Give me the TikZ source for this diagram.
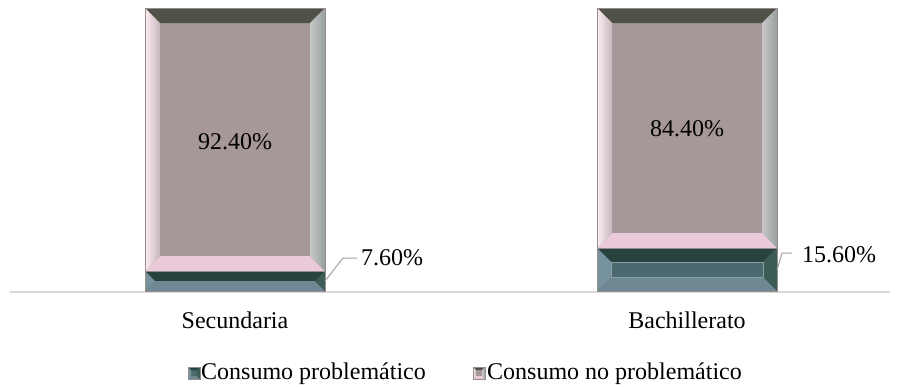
\documentclass[tikz,border=0pt]{standalone}
\usepackage{fontspec}
\setmainfont{Liberation Serif}
\definecolor{grmidc}{RGB}{166,152,152}
\definecolor{grtopc}{RGB}{80,82,72}
\definecolor{grbotc}{RGB}{234,202,216}
\definecolor{grl1}{RGB}{252,238,244}
\definecolor{grl2}{RGB}{196,182,186}
\definecolor{grr1}{RGB}{200,200,200}
\definecolor{grr2}{RGB}{244,252,252}
\definecolor{grr3}{RGB}{150,160,160}
\definecolor{tlmidc}{RGB}{74,106,112}
\definecolor{tltopc}{RGB}{40,66,62}
\definecolor{tlbotc}{RGB}{110,136,148}
\definecolor{tlleftc}{RGB}{118,146,158}
\definecolor{tlrightc}{RGB}{60,92,86}
\definecolor{axisc}{RGB}{217,217,217}
\definecolor{leadc}{RGB}{160,160,160}
\definecolor{edgec}{RGB}{150,140,140}
\tikzset{
  grmid/.style={fill=grmidc},
  grtop/.style={fill=grtopc},
  grbot/.style={fill=grbotc},
  grleft/.style={left color=grl1,right color=grl2},
  grright/.style={left color=grr1,middle color=grr2,right color=grr3},
  tlmid/.style={fill=tlmidc},
  tltop/.style={fill=tltopc},
  tlbot/.style={fill=tlbotc},
  tlleft/.style={fill=tlleftc},
  tlright/.style={fill=tlrightc},
  txt/.style={font=\fontsize{24}{28}\selectfont, text=black},
  lead/.style={draw=leadc, line width=1pt},
}
% #1 x1, #2 y1 (top), #3 x2, #4 y2 (bottom), #5 bevel, #6 prefix
\newcommand\bevelbox[6]{%
  \path[#6mid] (#1,#2) rectangle (#3,#4);
  \path[#6top] (#1,#2) -- (#3,#2) -- (#3-#5,#2+#5) -- (#1+#5,#2+#5) -- cycle;
  \path[#6bot] (#1,#4) -- (#3,#4) -- (#3-#5,#4-#5) -- (#1+#5,#4-#5) -- cycle;
  \path[#6left] (#1,#2) -- (#1+#5,#2+#5) -- (#1+#5,#4-#5) -- (#1,#4) -- cycle;
  \path[#6right] (#3,#2) -- (#3-#5,#2+#5) -- (#3-#5,#4-#5) -- (#3,#4) -- cycle;
  \draw[edgec, line width=0.6pt] (#1,#2) rectangle (#3,#4);
}
\begin{document}
\begin{tikzpicture}[x=1pt, y=-1pt]
\useasboundingbox (0,0) rectangle (900,386);
\fill[white] (0,0) rectangle (900,386);
% axis
\coordinate (ax1) at (10,292);
\coordinate (ax2) at (890,292);
\draw[axisc, line width=1.6pt] (ax1) -- (ax2);
% bar 1
\bevelbox{145}{8}{325}{271}{15}{gr}
\bevelbox{145}{271}{325}{291}{10}{tl}
% bar 2
\bevelbox{597}{8}{777}{248}{15}{gr}
\bevelbox{597}{248}{777}{291}{14}{tl}
\draw[tlbotc!80!white, line width=0.8pt] (611,262) rectangle (763,277);
% values
\node[txt] (v1) at (235,142) {92.40\%};
\node[txt] (v2) at (687,129) {84.40\%};
\node[txt, anchor=west, inner xsep=4pt] (v3) at (357,257.5) {7.60\%};
\node[txt, anchor=west, inner xsep=10pt] (v4) at (792,255) {15.60\%};
% leader lines
\coordinate (l1a) at (325,281);
\coordinate (l1b) at (343,258);
\coordinate (l1c) at (357,258);
\draw[lead] (l1a) -- (l1b) -- (l1c);
\coordinate (l2a) at (777,270);
\coordinate (l2b) at (782,253);
\coordinate (l2c) at (792,253);
\draw[lead] (l2a) -- (l2b) -- (l2c);
% categories
\node[txt, anchor=base] (c1) at (235,328) {Secundaria};
\node[txt, anchor=base] (c2) at (687,328) {Bachillerato};
% legend
\bevelbox{188}{367}{200}{379}{3}{tl}
\node[txt, anchor=base west, inner xsep=1pt] (lg1) at (200,379) {Consumo problemático};
\bevelbox{473}{367}{485}{379}{3}{gr}
\node[txt, anchor=base west, inner xsep=1pt] (lg2) at (486,379) {Consumo no problemático};
\end{tikzpicture}
\end{document}
